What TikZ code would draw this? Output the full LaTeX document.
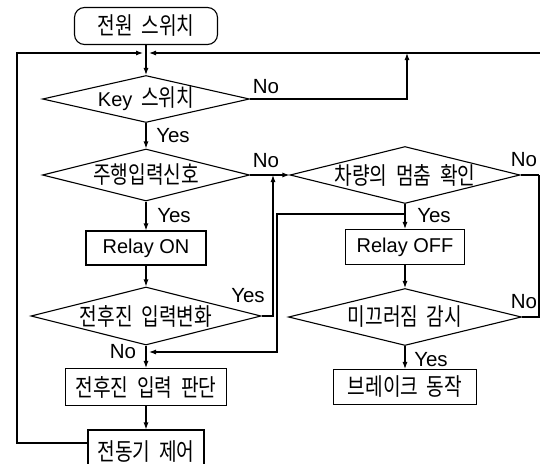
\documentclass[tikz,border=0pt]{standalone}
\usepackage{fontspec}
\setmainfont{Noto Sans CJK KR}[FakeStretch=0.8, WordSpace=2.0]
\newfontfamily\latfam{Liberation Sans}
\usetikzlibrary{shapes.geometric,arrows.meta}
\newcommand\latw[1]{{\latfam\fontsize{20}{20}\selectfont #1}}
\tikzset{
  ln/.style={line width=1.1pt},
  arr/.style={line width=1.1pt, -{Latex[length=7pt,width=5pt]}},
  txt/.style={font=\fontsize{24}{24}\selectfont},
  box/.style={draw, line width=1.1pt, inner sep=0pt, txt},
  dia/.style={draw, shape=diamond, line width=1.1pt, inner sep=0pt},
  lab/.style={inner sep=0pt, font=\latfam\fontsize{20.5}{20.5}\selectfont}
}
\begin{document}
\begin{tikzpicture}[x=1pt,y=-1pt]
\useasboundingbox (0,0) rectangle (540,463);
\clip (0,0) rectangle (540,463);
% nodes
\node[box, rounded corners=10pt, minimum width=143pt, minimum height=37pt] (start) at (146,26) {전원 스위치};
\node[dia, minimum width=207pt, minimum height=47pt, label={[txt]center:\latw{Key} 스위치}] (d1) at (146,99) {};
\node[dia, minimum width=207pt, minimum height=52pt, label={[txt]center:주행입력신호}] (d2) at (146,175) {};
\node[box, minimum width=120pt, minimum height=34pt] (relayon) at (146,248) {\latw{Relay ON}};
\node[dia, minimum width=230pt, minimum height=58pt, label={[txt]center:전후진 입력변화}] (d4) at (146,316) {};
\node[box, minimum width=161pt, minimum height=37pt] (judge) at (146,387) {전후진 입력 판단};
\node[box, minimum width=116pt, minimum height=44pt] (motor) at (146,452) {전동기 제어};
\node[dia, minimum width=230pt, minimum height=57pt, label={[txt]center:차량의 멈춤 확인}] (d3) at (405,175) {};
\node[box, minimum width=119pt, minimum height=35pt] (relayoff) at (405,247) {\latw{Relay OFF}};
\node[dia, minimum width=233pt, minimum height=57pt, label={[txt]center:미끄러짐 감시}] (d5) at (405,317) {};
\node[box, minimum width=143pt, minimum height=35pt] (brake) at (405,387) {브레이크 동작};
% coordinates
\coordinate (j) at (146,53);
\coordinate (jl) at (143,53);
\coordinate (jr) at (149,53);
\coordinate (tl) at (17,53);
\coordinate (tr) at (540,53);
\coordinate (r1) at (407,53);
\coordinate (c1) at (273,175);
\coordinate (k1) at (405,214);
\coordinate (k2) at (277,214);
\coordinate (k3) at (277,352);
\coordinate (k4) at (149,352);
\coordinate (e1) at (539,175);
\coordinate (e2) at (539,317);
% connectors
\draw[ln] (start.south) -- (j);
\draw[arr] (j) -- (d1.north);
\draw[arr] ([yshift=9pt]motor.west) -| (tl) -- (jl);
\draw[arr] (tr) -- (jr);
\draw[arr] (d1.east) -| (r1);
\draw[arr] (d1.south) -- (d2.north);
\draw[arr] (d2.east) -- (d3.west);
\draw[arr] (d4.east) -| (c1);
\draw[arr] (d2.south) -- (relayon.north);
\draw[arr] (relayon.south) -- (d4.north);
\draw[arr] (d4.south) -- (judge.north);
\draw[arr] (judge.south) -- (motor.north);
\draw[arr] (d3.south) -- (relayoff.north);
\draw[arr] (k1) -- (k2) -- (k3) -- (k4);
\draw[arr] (relayoff.south) -- (d5.north);
\draw[arr] (d5.south) -- (brake.north);
\draw[ln] (d3.east) -- (e1);
\draw[ln] (d5.east) -- (e2) -- (e1);
% labels
\node[lab] (n1) at (266,87) {No};
\node[lab] (y1) at (173,136) {Yes};
\node[lab] (n2) at (266,161) {No};
\node[lab] (y2) at (174,216) {Yes};
\node[lab] (y4) at (248,296) {Yes};
\node[lab] (n4) at (123,352) {No};
\node[lab] (n3) at (524,160) {No};
\node[lab] (y3) at (434,216) {Yes};
\node[lab] (n5) at (524,302) {No};
\node[lab] (y5) at (431,360) {Yes};
\end{tikzpicture}
\end{document}
